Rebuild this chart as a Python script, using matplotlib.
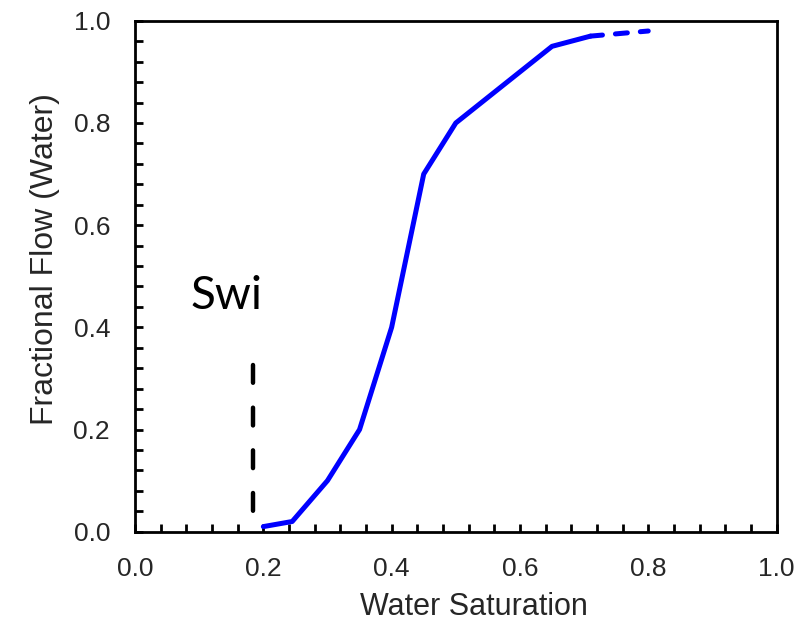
import matplotlib
matplotlib.use("Agg")
import matplotlib.pyplot as plt
from matplotlib.ticker import MultipleLocator, FormatStrFormatter

sw = [0.20, 0.245, 0.30, 0.35, 0.40, 0.45, 0.50, 0.55, 0.60, 0.65, 0.71]
fw = [0.01, 0.02, 0.10, 0.20, 0.40, 0.70, 0.80, 0.85, 0.90, 0.95, 0.97]
sw_ext = [0.71, 0.80]
fw_ext = [0.97, 0.98]
swi_x = 0.184
swi_y = [0.327, 0.017]

plt.rcParams['font.family'] = ['Liberation Sans', 'DejaVu Sans']
fig = plt.figure(figsize=(8.1, 6.3), dpi=100)
ax = fig.add_axes([0.1667, 0.156, 0.792, 0.811])

ax.plot(sw, fw, color='#0000FF', lw=3.6, solid_capstyle='round')
ax.plot(sw_ext, fw_ext, color='#0000FF', lw=3.6, linestyle=(0, (2.4, 2.6)), dash_capstyle='round')
ax.plot([swi_x, swi_x], swi_y, color='black', lw=3.2, linestyle=(0, (4.0, 5.6)), dash_capstyle='round')
ax.text(0.143, 0.462, 'Swi', fontsize=33, family=['Lato', 'DejaVu Sans'], ha='center', va='center')

ax.set_xlim(0, 1)
ax.set_ylim(0, 1)
ax.xaxis.set_major_locator(MultipleLocator(0.2))
ax.xaxis.set_minor_locator(MultipleLocator(0.04))
ax.yaxis.set_major_locator(MultipleLocator(0.2))
ax.yaxis.set_minor_locator(MultipleLocator(0.04))
ax.xaxis.set_major_formatter(FormatStrFormatter('%.1f'))
ax.yaxis.set_major_formatter(FormatStrFormatter('%.1f'))
ax.tick_params(which='both', direction='in', length=6, width=2, labelsize=19,
               labelcolor='#262626')
ax.tick_params(axis='x', pad=18)
ax.tick_params(axis='y', pad=18)
for s in ax.spines.values():
    s.set_linewidth(2)
ax.set_xlabel('Water Saturation', fontsize=22, color='#262626')
ax.set_ylabel('Fractional Flow (Water)', fontsize=23, color='#262626')
ax.xaxis.set_label_coords(0.528, -0.118)
ax.yaxis.set_label_coords(-0.117, 0.534)

fig.savefig('out.png', dpi=100)
